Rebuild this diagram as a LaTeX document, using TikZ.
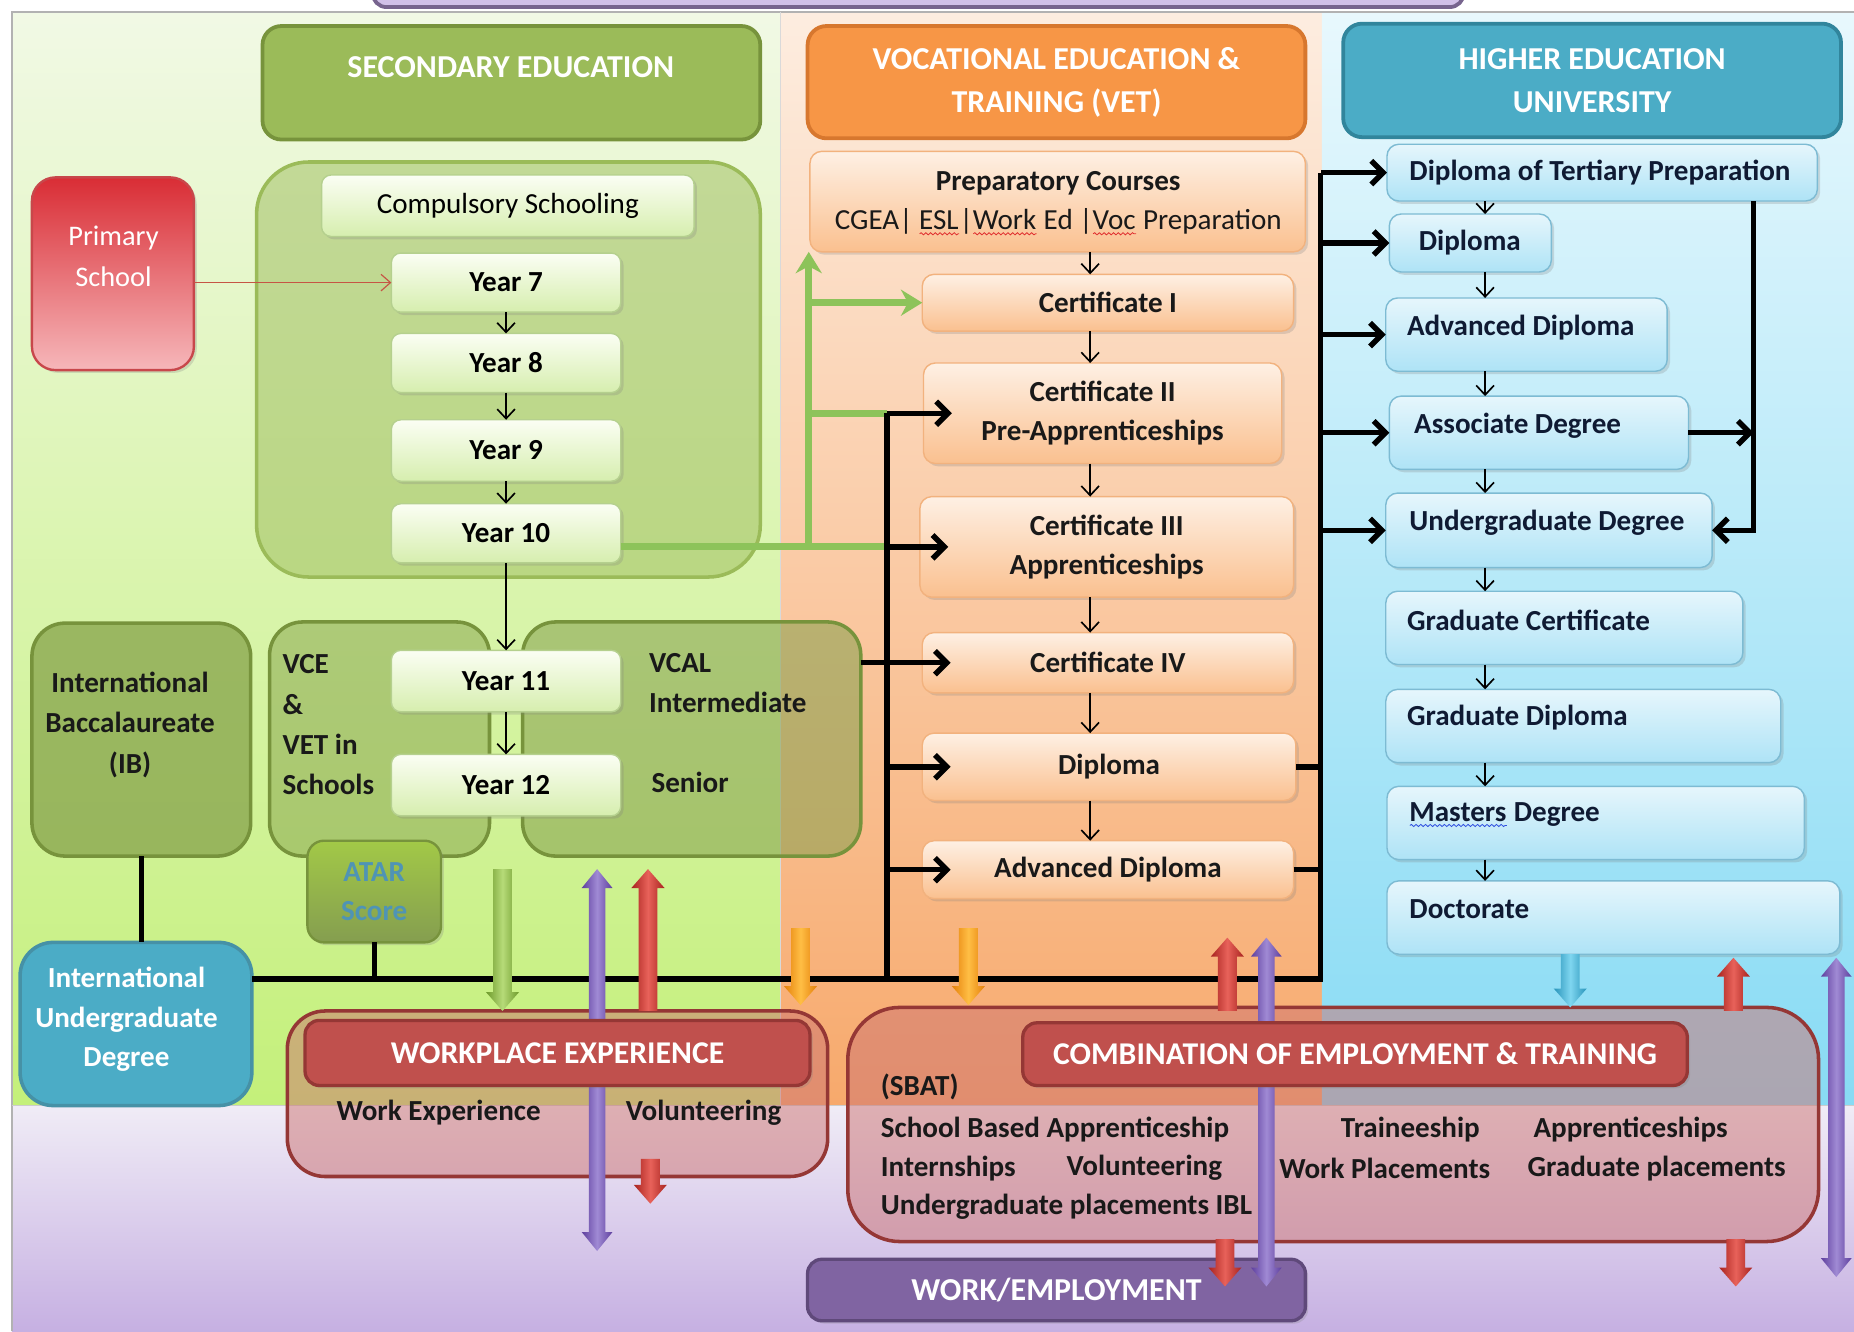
\documentclass[tikz,border=0pt]{standalone}
\usepackage{fontspec}
\setmainfont{Carlito}
\usetikzlibrary{arrows.meta,shadows,decorations.pathmorphing}

\definecolor{gTop}{HTML}{F1F9E5}
\definecolor{gBot}{HTML}{C4F07A}
\definecolor{oTop}{HTML}{FDEDE0}
\definecolor{oBot}{HTML}{F7A96C}
\definecolor{bTop}{HTML}{E8F8FD}
\definecolor{bBot}{HTML}{88DBF4}
\definecolor{pTop}{HTML}{F0ECF6}
\definecolor{pBot}{HTML}{C6B0E2}
\definecolor{secF}{HTML}{9BBB59}
\definecolor{secD}{HTML}{77933C}
\definecolor{vetF}{HTML}{F79646}
\definecolor{vetD}{HTML}{D7772E}
\definecolor{heF}{HTML}{4BACC6}
\definecolor{heD}{HTML}{31859C}
\definecolor{redF}{HTML}{C0504D}
\definecolor{redD}{HTML}{953735}
\definecolor{purF}{HTML}{8064A2}
\definecolor{purD}{HTML}{5F497A}
\definecolor{yTop}{HTML}{FBFEF4}
\definecolor{yBot}{HTML}{D6EEAE}
\definecolor{yDr}{HTML}{B5D08E}
\definecolor{vTop}{HTML}{FEF0E4}
\definecolor{vBot}{HTML}{FAC08F}
\definecolor{vDr}{HTML}{F2B27E}
\definecolor{hTop}{HTML}{E6F6FC}
\definecolor{hBot}{HTML}{AEE3F6}
\definecolor{hDr}{HTML}{7DBBD3}
\definecolor{htxt}{HTML}{0F1A33}
\definecolor{lineG}{HTML}{8DC35A}
\definecolor{atarT}{HTML}{4F94B5}
\definecolor{primT}{HTML}{D92D35}
\definecolor{primB}{HTML}{F6B7BA}
\definecolor{primD}{HTML}{C8474B}
\definecolor{gArrD}{HTML}{6E9A2C}
\definecolor{gArrL}{HTML}{B6DB78}
\definecolor{pArrD}{HTML}{5E3F9E}
\definecolor{pArrL}{HTML}{A08AD4}
\definecolor{rArrD}{HTML}{A8231F}
\definecolor{rArrL}{HTML}{E8625A}
\definecolor{oArrD}{HTML}{E5800A}
\definecolor{oArrL}{HTML}{FFBE45}
\definecolor{bArrD}{HTML}{2894BA}
\definecolor{bArrL}{HTML}{7FD6F0}
\definecolor{spellR}{HTML}{E03030}
\definecolor{spellB}{HTML}{3050E0}

\newcommand\bx[7]{\node[#6,minimum width={(#4-#2)*0.5pt},minimum height={(#5-#3)*0.5pt}] (#1) at ({(#2+#4)/2},{(#3+#5)/2}) {#7};}
\newcommand\blk[5]{%
  \pgfmathsetmacro\bd{(#3>#2)*2-1}%
  \shade[left color=#4,right color=#4,middle color=#5]
  ({#1-8},#2) -- ({#1+8},#2) -- ({#1+8},{#3-\bd*16}) -- ({#1+14},{#3-\bd*16}) -- (#1,#3)
  -- ({#1-14},{#3-\bd*16}) -- ({#1-8},{#3-\bd*16}) -- cycle;}
\newcommand\dblk[5]{%
  \shade[left color=#4,right color=#4,middle color=#5]
  (#1,#2) -- ({#1+13},{#2+16}) -- ({#1+7},{#2+16}) -- ({#1+7},{#3-16}) -- ({#1+13},{#3-16}) -- (#1,#3)
  -- ({#1-13},{#3-16}) -- ({#1-7},{#3-16}) -- ({#1-7},{#2+16}) -- ({#1-13},{#2+16}) -- cycle;}
\newlength\wvlen
\newcommand\wavy[2]{\settowidth\wvlen{#2}\rlap{#2}\raisebox{-2.4pt}{\tikz{\draw[#1,line width=0.35pt,decorate,decoration={snake,amplitude=0.45pt,segment length=2pt}] (0pt,0pt) -- (\wvlen,0pt);}}}

\begin{document}
\begin{tikzpicture}[x=0.5pt,y=-0.5pt,
  every node/.style={inner sep=0pt,outer sep=0pt},
  shd/.style={drop shadow={opacity=0.25,shadow xshift=1.2pt,shadow yshift=-1.2pt}},
  header/.style={line width=1.6pt,rounded corners=8pt,text=white,align=center,
    font=\bfseries\fontsize{13.5}{18}\selectfont},
  htext/.style={text=white,font=\bfseries\fontsize{13.5}{18}\selectfont},
  ybox/.style={draw=yDr,line width=0.6pt,rounded corners=4pt,top color=yTop,bottom color=yBot,shd,
    font=\bfseries\fontsize{12.3}{14}\selectfont},
  vbox/.style={draw=vDr,line width=0.6pt,rounded corners=5pt,top color=vTop,bottom color=vBot,shd,
    align=center,font=\bfseries\fontsize{12.3}{16.5}\selectfont,text=black!90},
  hbox/.style={draw=hDr,line width=0.6pt,rounded corners=5pt,top color=hTop,bottom color=hBot,shd},
  txt/.style={font=\bfseries\fontsize{12.3}{17}\selectfont,text=black!90},
  htx/.style={anchor=west,font=\bfseries\fontsize{12.3}{14}\selectfont,text=htxt},
  cont/.style={line width=1.5pt,rounded corners=14pt},
  bline/.style={line width=2.3pt,black},
  barr/.style={line width=2.3pt,black,-{Straight Barb[length=5pt,width=10pt]}},
  sarr/.style={line width=0.7pt,black,-{Straight Barb[length=4pt,width=7.5pt]}},
  gline/.style={line width=3pt,lineG},
  garr/.style={line width=3pt,lineG,-{Stealth[length=9pt,width=11pt]}},
  parr/.style={line width=0.5pt,redF!90!orange,-{Straight Barb[length=4pt,width=7pt]}},
  redhead/.style={line width=1.4pt,rounded corners=6pt,fill=redF,draw=redD,shd,text=white,
    font=\bfseries\fontsize{13.4}{14}\selectfont}]

\useasboundingbox (0,0) rectangle (1568,1126);
\fill[white] (0,0) rectangle (1568,1126);
% panels
\shade[top color=gTop,bottom color=gBot] (10,10) rectangle (660,935);
\shade[top color=oTop,bottom color=oBot] (660,10) rectangle (1118,935);
\shade[top color=bTop,bottom color=bBot] (1118,10) rectangle (1568,935);
\shade[top color=pTop,bottom color=pBot] (10,935) rectangle (1568,1126);
\draw[gray!60,line width=0.6pt] (10,1126) -- (10,10) -- (1568,10);
\draw[black!20,line width=0.4pt] (10,935) -- (1568,935);
\draw[black!15,line width=0.4pt] (660,10) -- (660,935);
\bx{topbox}{315}{-40}{1238}{6}{draw=purD!85,fill=pBot!80,line width=1.6pt,rounded corners=6pt}{}

% headers
\bx{sec}{222}{22}{643}{118}{header,fill=secF,draw=secD}{}
\node[htext] (secT) at (432,57) {SECONDARY EDUCATION};
\bx{vet}{683}{22}{1104}{117}{header,fill=vetF,draw=vetD}{VOCATIONAL EDUCATION \&\\TRAINING (VET)}
\bx{he}{1136}{20}{1557}{116}{header,fill=heF,draw=heD}{HIGHER EDUCATION\\UNIVERSITY}

% primary
\bx{prim}{27}{150}{164}{313}{rounded corners=10pt,top color=primT,bottom color=primB,draw=primD,line width=1pt,shd}{}
\node[text=white,align=center,font=\fontsize{12}{17.5}\selectfont] (primT) at (96,217) {Primary\\School};

% secondary containers
\bx{comp}{217}{137}{643}{488}{cont,rounded corners=22pt,fill=secF,fill opacity=0.5,draw=secF}{}
\bx{ib}{27}{527}{212}{724}{cont,fill=secF!90!black,fill opacity=0.8,draw=secD}{}
\bx{vce}{228}{526}{414}{724}{cont,fill=secF!90!black,fill opacity=0.55,draw=secD}{}
\bx{vcal}{442}{526}{728}{724}{cont,fill=secF!85!black,fill opacity=0.55,draw=secD}{}
\bx{iug}{17}{797}{213}{935}{cont,fill=heF,draw=heD!90}{}
\node[text=white,align=center,font=\bfseries\fontsize{12.3}{16.5}\selectfont] (iugT) at (107,862) {International\\Undergraduate\\Degree};
\bx{atar}{260}{711}{373}{797}{line width=1pt,rounded corners=7pt,top color=secF!80!lime,bottom color=secD!90,draw=secD,shd,text=atarT,align=center,font=\bfseries\fontsize{12.3}{16.5}\selectfont}{ATAR\\Score}

\node[txt,align=center] (ibT) at (110,613) {International\\Baccalaureate\\(IB)};
\node[txt,align=left,anchor=west] (vceT) at (239,613) {VCE\\\&\\VET in\\Schools};
\node[txt,anchor=west] (vcalA) at (549,561) {VCAL};
\node[txt,anchor=west] (vcalB) at (549,594) {Intermediate};
\node[txt,anchor=west] (vcalC) at (551,662) {Senior};

% year boxes
\bx{cs}{272}{148}{587}{200}{ybox,font=\fontsize{12.3}{14}\selectfont}{Compulsory Schooling}
\bx{y7}{331}{214}{525}{264}{ybox}{Year 7}
\bx{y8}{331}{282}{525}{332}{ybox}{Year 8}
\bx{y9}{331}{355}{525}{407}{ybox}{Year 9}
\bx{y10}{331}{426}{525}{476}{ybox}{Year 10}
\bx{y11}{331}{550}{525}{602}{ybox}{Year 11}
\bx{y12}{331}{638}{525}{690}{ybox}{Year 12}

% VET boxes
\bx{prep}{685}{128}{1104}{213}{vbox}{}
\node[txt,align=center,font=\bfseries\fontsize{12.3}{16.5}\selectfont] (prepT) at (895,172) {Preparatory Courses\\{\mdseries CGEA| \wavy{spellR}{ESL}|\wavy{spellR}{Work} Ed |\wavy{spellR}{Voc} Preparation}};
\bx{c1}{780}{232}{1094}{280}{vbox}{Certificate I}
\bx{c2}{781}{307}{1084}{392}{vbox}{Certificate II\\Pre-Apprenticeships}
\bx{c3}{778}{420}{1094}{505}{vbox}{Certificate III\\Apprenticeships}
\bx{c4}{780}{535}{1094}{586}{vbox}{Certificate IV}
\bx{vdip}{780}{620}{1096}{677}{vbox}{Diploma}
\bx{vadv}{780}{711}{1094}{760}{vbox}{Advanced Diploma}

% HE boxes
\bx{dtp}{1173}{122}{1537}{170}{hbox}{}
\bx{hdip}{1175}{181}{1312}{230}{hbox}{}
\bx{hadv}{1172}{252}{1410}{314}{hbox}{}
\bx{assoc}{1175}{335}{1428}{397}{hbox}{}
\bx{ug}{1172}{417}{1448}{480}{hbox}{}
\bx{gcert}{1172}{500}{1474}{562}{hbox}{}
\bx{gdip}{1172}{583}{1506}{645}{hbox}{}
\bx{mast}{1173}{665}{1526}{727}{hbox}{}
\bx{doc}{1173}{745}{1556}{807}{hbox}{}
\node[htx] (dtpT) at (1192,146) {Diploma of Tertiary Preparation};
\node[htx] (hdipT) at (1200,205) {Diploma};
\node[htx] (hadvT) at (1190,277) {Advanced Diploma};
\node[htx] (assocT) at (1196,360) {Associate Degree};
\node[htx] (ugT) at (1192,442) {Undergraduate Degree};
\node[htx] (gcertT) at (1190,525) {Graduate Certificate};
\node[htx] (gdipT) at (1190,607) {Graduate Diploma};
\node[htx] (mastT) at (1192,689) {\wavy{spellB}{Masters} Degree};
\node[htx] (docT) at (1192,769) {Doctorate};

% bottom containers
\bx{wpc}{243}{855}{700}{995}{cont,rounded corners=16pt,fill=redF!80!white,fill opacity=0.5,draw=redD}{}
\node[txt] (wpA) at (371,941) {Work Experience};
\node[txt] (wpB) at (595,941) {Volunteering};

\bx{cbc}{717}{852}{1538}{1050}{cont,rounded corners=22pt,fill=redF!80!white,fill opacity=0.5,draw=redD}{}
\node[txt,anchor=west] (cbA) at (745,919) {(SBAT)};
\node[txt,anchor=west] (cbB) at (745,955) {School Based Apprenticeship};
\node[txt,anchor=west] (cbC) at (745,988) {Internships};
\node[txt,anchor=west] (cbD) at (902,988) {Volunteering};
\node[txt,anchor=west] (cbE) at (745,1021) {Undergraduate placements IBL};
\node[txt,anchor=west] (cbF) at (1134,955) {Traineeship};
\node[txt,anchor=west] (cbG) at (1297,955) {Apprenticeships};
\node[txt,anchor=west] (cbH) at (1082,988) {Work Placements};
\node[txt,anchor=west] (cbI) at (1292,988) {Graduate placements};

\bx{work}{683}{1065}{1104}{1117}{line width=1.4pt,rounded corners=6pt,fill=purF,draw=purD,shd,text=white,font=\bfseries\fontsize{13.5}{14}\selectfont}{WORK/EMPLOYMENT}

% coordinates
\coordinate (bus1) at (750,828);
\coordinate (bus2) at (1117,828);
\coordinate (gx) at (684,0);
\coordinate (vx) at (922,0);
\coordinate (hx) at (1256,0);
\coordinate (hr) at (1483,0);

% green lines
\draw[gline] (y10.east |- c3.west) -- (bus1 |- c3.west);
\draw[gline] (gx |- c2.west) -- (bus1 |- c2.west);
\draw[garr] (gx |- c3.west) -- (gx |- prep.south);
\draw[garr] (gx |- c1.west) -- (c1.west);

% black lines
\draw[bline] (iug.east |- bus1) -- (bus2) -- (bus2 |- dtp.west);
\draw[bline] (bus1) -- (bus1 |- c2.west);
\draw[bline] (ib.south) -- (ib.south |- iug.north);
\draw[bline] (atar.south) -- (atar.south |- bus1);
\draw[barr] (bus1 |- c2.west) -- ([xshift=12pt]c2.west);
\draw[barr] (bus1 |- c3.west) -- ([xshift=12pt]c3.west);
\draw[barr] (vcal.east |- c4.west) -- ([xshift=12pt]c4.west);
\draw[barr] (bus1 |- vdip.west) -- ([xshift=12pt]vdip.west);
\draw[barr] (bus1 |- vadv.west) -- ([xshift=12pt]vadv.west);
\draw[bline] (vdip.east) -- (vdip.east -| bus2);
\draw[bline] (vadv.east) -- (vadv.east -| bus2);
\draw[barr] (bus2 |- dtp.west) -- (dtp.west);
\draw[barr] (bus2 |- hdip.west) -- (hdip.west);
\draw[barr] (bus2 |- hadv.west) -- (hadv.west);
\draw[barr] (bus2 |- assoc.west) -- (assoc.west);
\draw[barr] (bus2 |- ug.west) -- (ug.west);
\draw[barr] (dtp.south -| hr) -- (ug.east -| hr) -- (ug.east);
\draw[barr] (assoc.east) -- (assoc.east -| hr);

% thin arrows
\draw[parr] (prim.east |- y7.west) -- (y7.west);
\draw[sarr] (y7.south) -- (y8.north);
\draw[sarr] (y8.south) -- (y9.north);
\draw[sarr] (y9.south) -- (y10.north);
\draw[sarr] (y10.south) -- (y11.north);
\draw[sarr] (y11.south) -- (y12.north);
\draw[sarr] (prep.south -| vx) -- (c1.north -| vx);
\draw[sarr] (c1.south -| vx) -- (c2.north -| vx);
\draw[sarr] (c2.south -| vx) -- (c3.north -| vx);
\draw[sarr] (c3.south -| vx) -- (c4.north -| vx);
\draw[sarr] (c4.south -| vx) -- (vdip.north -| vx);
\draw[sarr] (vdip.south -| vx) -- (vadv.north -| vx);
\draw[sarr] (dtp.south -| hx) -- (hdip.north -| hx);
\draw[sarr] (hdip.south -| hx) -- (hadv.north -| hx);
\draw[sarr] (hadv.south -| hx) -- (assoc.north -| hx);
\draw[sarr] (assoc.south -| hx) -- (ug.north -| hx);
\draw[sarr] (ug.south -| hx) -- (gcert.north -| hx);
\draw[sarr] (gcert.south -| hx) -- (gdip.north -| hx);
\draw[sarr] (gdip.south -| hx) -- (mast.north -| hx);
\draw[sarr] (mast.south -| hx) -- (doc.north -| hx);

% block arrows
\blk{425}{735}{855}{gArrD}{gArrL}
\dblk{505}{735}{1058}{pArrD}{pArrL}
\blk{548}{855}{735}{rArrD}{rArrL}
\blk{677}{785}{850}{oArrD}{oArrL}
\blk{819}{785}{850}{oArrD}{oArrL}
\blk{1038}{855}{793}{rArrD}{rArrL}
\dblk{1071}{793}{1088}{pArrD}{pArrL}
\blk{1328}{807}{852}{bArrD}{bArrL}
\blk{1466}{855}{810}{rArrD}{rArrL}
\dblk{1553}{810}{1080}{pArrD}{pArrL}
\blk{550}{980}{1018}{rArrD}{rArrL}
\blk{1036}{1048}{1088}{rArrD}{rArrL}
\blk{1468}{1048}{1088}{rArrD}{rArrL}

% red headers above the arrows
\bx{wph}{258}{863}{685}{918}{redhead}{WORKPLACE EXPERIENCE}
\bx{cbh}{865}{865}{1427}{918}{redhead}{COMBINATION OF EMPLOYMENT \& TRAINING}
\end{tikzpicture}
\end{document}
